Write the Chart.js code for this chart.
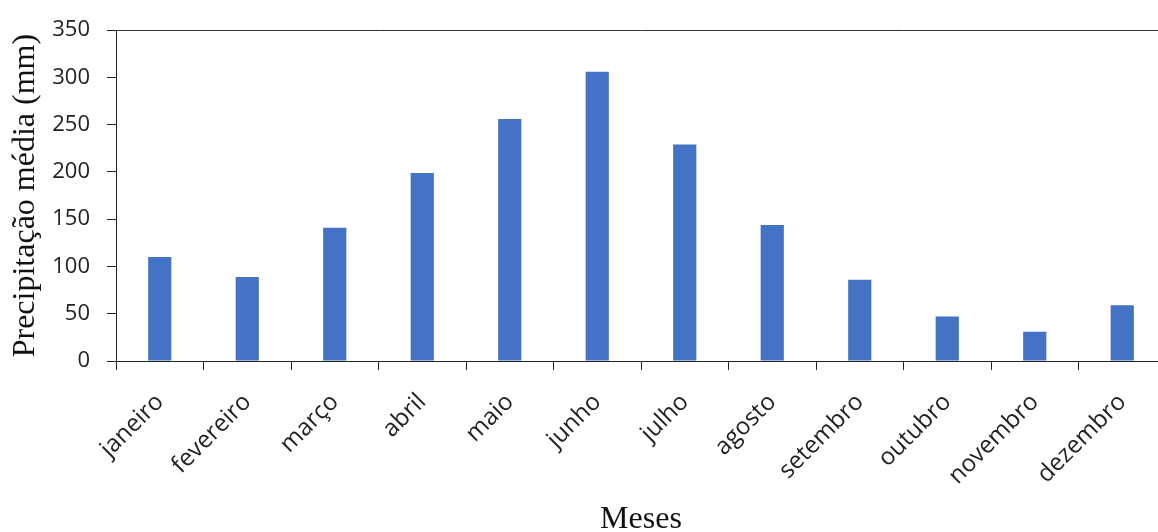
<!DOCTYPE html>
<html>
<head>
<meta charset="utf-8">
<script src="https://cdn.jsdelivr.net/npm/chart.js@4.4.1/dist/chart.umd.min.js"></script>
<style>
  html, body { margin: 0; padding: 0; background: #fff; overflow: hidden; width: 1158px; height: 532px; }
  #wrap { width: 1170px; height: 532px; }
</style>
</head>
<body>
<div id="wrap"><canvas id="c" width="1170" height="532"></canvas></div>
<script>
const categories = ["janeiro", "fevereiro", "março", "abril", "maio", "junho", "julho", "agosto", "setembro", "outubro", "novembro", "dezembro"];
const precipitacao = [110, 89, 141, 199, 256, 306, 229, 144, 86, 47, 31, 59];
const yTicks = [0, 50, 100, 150, 200, 250, 300, 350];
const yTitle = "Precipitação média (mm)";
const xTitle = "Meses";

const yTickFont = { family: "'Open Sans', sans-serif", size: 22 };
const xTickFont = { family: "'Open Sans', sans-serif", size: 24 };
const titleFont = { family: "'Liberation Serif', 'Times New Roman', serif", size: 32 };

new Chart(document.getElementById('c'), {
  type: 'bar',
  data: {
    labels: categories,
    datasets: [{
      data: precipitacao,
      backgroundColor: '#4472C4',
      borderWidth: 0,
      categoryPercentage: 1,
      barPercentage: 0.265
    }]
  },
  options: {
    responsive: false,
    animation: false,
    devicePixelRatio: 1,
    layout: { padding: { top: 24, right: 4, bottom: 0, left: 0 } },
    plugins: { legend: { display: false }, tooltip: { enabled: false } },
    scales: {
      x: {
        offset: true,
        grid: { offset: true, drawOnChartArea: false, drawTicks: true, tickLength: 9, tickColor: '#222', lineWidth: 1 },
        border: { color: '#222', width: 1 },
        ticks: { autoSkip: false, minRotation: 45, maxRotation: 45, font: xTickFont, color: '#222', padding: 18 },
        title: { display: true, text: xTitle, font: titleFont, color: '#111', padding: { top: 0, bottom: -7 } },
        afterFit: (s) => { s.height = 171; }
      },
      y: {
        min: 0, max: 350,
        afterBuildTicks: (s) => { s.ticks = yTicks.map(v => ({ value: v })); },
        grid: {
          drawOnChartArea: true,
          color: (ctx) => (ctx.tick && ctx.tick.value === 350) ? '#333' : 'rgba(0,0,0,0)',
          tickColor: '#222', tickLength: 9, lineWidth: 1
        },
        border: { color: '#222', width: 1 },
        ticks: { font: yTickFont, color: '#222', padding: 17 },
        title: { display: true, text: yTitle, font: titleFont, color: '#111', padding: { top: 6, bottom: 0 } },
        afterFit: (s) => { s.width = 116; }
      }
    }
  }
});
</script>
</body>
</html>
